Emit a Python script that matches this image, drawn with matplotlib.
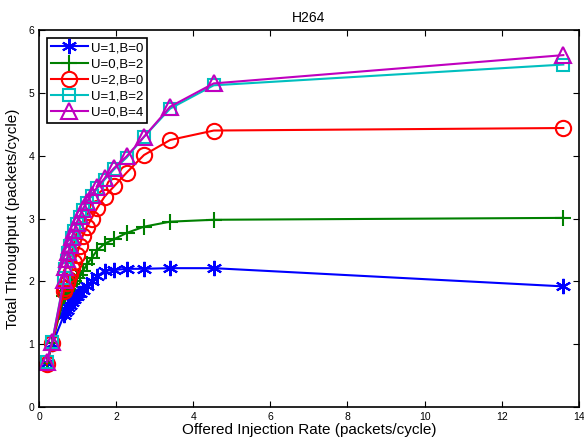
import numpy as np
import matplotlib
matplotlib.use('Agg')
import matplotlib.pyplot as plt

plt.rcParams['font.family'] = ['Liberation Sans', 'DejaVu Sans']

# offered injection rate (packets/cycle)
rate = [0.2, 0.34, 0.65, 0.68, 0.72, 0.76, 0.8, 0.85, 0.91, 0.97, 1.05,
        1.13, 1.24, 1.36, 1.51, 1.7, 1.94, 2.27, 2.72, 3.4, 4.53, 13.6]

# total throughput (packets/cycle)
u1_b0 = [0.7, 1.0, 1.47, 1.51, 1.55, 1.59, 1.63, 1.67, 1.72, 1.77, 1.82,
         1.87, 1.93, 2.0, 2.08, 2.17, 2.18, 2.2, 2.2, 2.21, 2.21, 1.92]
u0_b2 = [0.7, 1.02, 1.76, 1.8, 1.84, 1.88, 1.92, 1.96, 2.01, 2.06, 2.1,
         2.16, 2.27, 2.37, 2.5, 2.6, 2.67, 2.77, 2.87, 2.95, 2.98, 3.01]
u2_b0 = [0.68, 1.02, 1.85, 1.9, 1.97, 2.04, 2.12, 2.21, 2.31, 2.42, 2.57,
         2.72, 2.87, 3.0, 3.17, 3.35, 3.51, 3.73, 4.01, 4.25, 4.4, 4.44]
u1_b2 = [0.72, 1.04, 2.05, 2.2, 2.33, 2.45, 2.56, 2.69, 2.8, 2.91, 3.02,
         3.13, 3.25, 3.36, 3.48, 3.62, 3.78, 3.97, 4.3, 4.75, 5.12, 5.45]
u0_b4 = [0.72, 1.04, 2.02, 2.23, 2.35, 2.47, 2.58, 2.71, 2.82, 2.93, 3.04,
         3.15, 3.27, 3.38, 3.5, 3.64, 3.8, 3.99, 4.3, 4.78, 5.15, 5.6]

labels = ['U=1,B=0', 'U=0,B=2', 'U=2,B=0', 'U=1,B=2', 'U=0,B=4']

# matlab style asterisk (six spokes)
asterisk = (6, 2, 0)

fig = plt.figure(figsize=(5.84, 4.41), dpi=100)
ax = fig.add_axes([0.067, 0.077, 0.924, 0.855])

ax.plot(rate, u1_b0, '-', marker=asterisk, color='#0000ff', lw=1.5, ms=11, mew=1.5, label=labels[0])
ax.plot(rate, u0_b2, '-+', color='#008000', lw=1.5, ms=11, mew=1.5, label=labels[1])
ax.plot(rate, u2_b0, '-o', color='#ff0000', lw=1.5, ms=11, mew=1.5, mfc='none', label=labels[2])
ax.plot(rate, u1_b2, '-s', color='#00bfbf', lw=1.5, ms=9, mew=1.5, mfc='none', label=labels[3])
ax.plot(rate, u0_b4, '-^', color='#bf00bf', lw=1.5, ms=12, mew=1.5, mfc='none', label=labels[4])

ax.set_xlim(0, 14)
ax.set_ylim(0, 6)
ax.set_xticks(np.arange(0, 15, 2))
ax.set_yticks(np.arange(0, 7, 1))
ax.tick_params(direction='in', top=True, right=True, labelsize=7.5, length=4)
for s in ax.spines.values():
    s.set_linewidth(1.2)

ax.set_title('H264', fontsize=10)
ax.set_xlabel('Offered Injection Rate (packets/cycle)', fontsize=11, labelpad=1)
ax.set_ylabel('Total Throughput (packets/cycle)', fontsize=11, labelpad=6)

leg = ax.legend(loc='upper left', fontsize=9.5, fancybox=False, framealpha=1,
                edgecolor='black', borderpad=0.3, labelspacing=0.3,
                handlelength=2.8, handletextpad=0.2, borderaxespad=0.6)
leg.get_frame().set_linewidth(1.2)

fig.savefig('out.png', dpi=100)
